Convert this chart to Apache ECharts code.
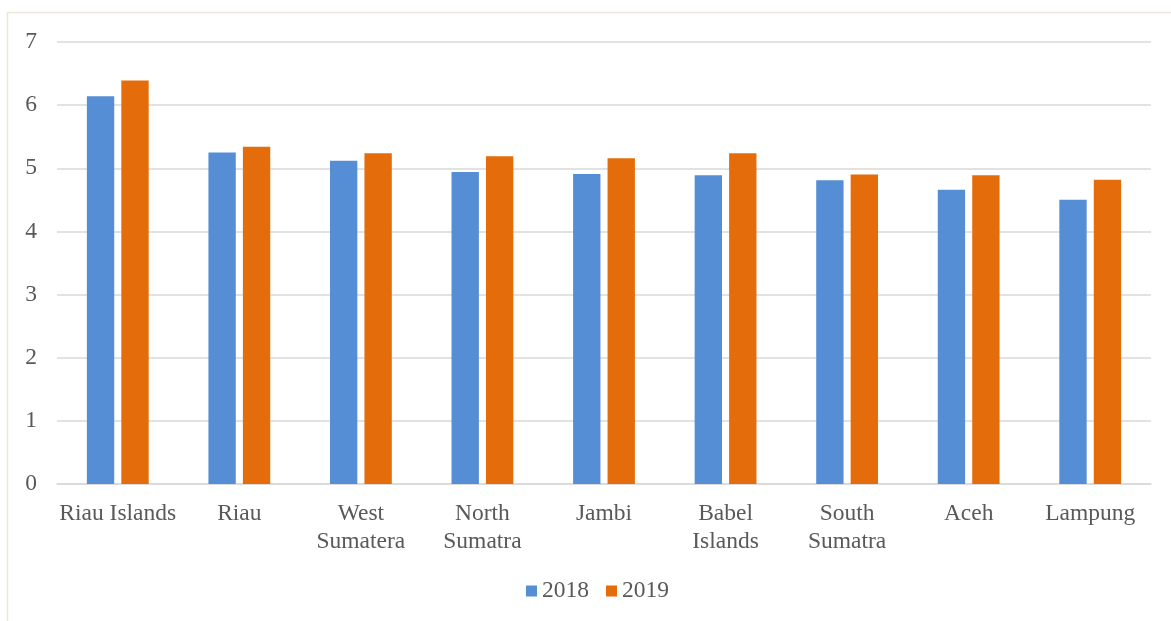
<!DOCTYPE html>
<html><head><meta charset="utf-8">
<script src="https://cdn.jsdelivr.net/npm/echarts@6/dist/echarts.min.js"></script>
<style>html,body{margin:0;padding:0;background:#fff}#c{width:1171px;height:621px}</style>
</head><body><div id="c"></div>
<script>
const categories = ['Riau Islands','Riau','West\nSumatera','North\nSumatra','Jambi','Babel\nIslands','South\nSumatra','Aceh','Lampung'];
const seriesNames = ['2018','2019'];
const values2018 = [6.14,5.25,5.12,4.94,4.91,4.89,4.81,4.66,4.50];
const values2019 = [6.39,5.34,5.24,5.19,5.16,5.24,4.90,4.89,4.82];
const yTicks = {min:0, max:7, interval:1};

const chart = echarts.init(document.getElementById('c'), null, {renderer:'canvas'});
const font = 'Liberation Serif';
chart.setOption({
  backgroundColor:'#fff',
  animation:false,
  graphic:[{type:'rect', shape:{x:7.5,y:12.5,width:1200,height:700}, style:{fill:'none',stroke:'#ece8d9',lineWidth:1.5}, silent:true}],
  grid:{left:57, right:20, top:42, bottom:137, containLabel:false},
  legend:{data:seriesNames, top:574, left:521, itemWidth:11, itemHeight:11, itemGap:17,
    icon:'rect', textStyle:{fontFamily:font, fontSize:23.5, color:'#595959', padding:[0,0,0,0]}},
  xAxis:{type:'category', data:categories,
    axisLine:{lineStyle:{color:'#d9d9d9', width:1.5}}, axisTick:{show:false},
    axisLabel:{fontFamily:font, fontSize:23.5, color:'#595959', margin:16, lineHeight:28, interval:0}},
  yAxis:{type:'value', min:yTicks.min, max:yTicks.max, interval:yTicks.interval,
    axisLine:{show:false}, axisTick:{show:false},
    splitLine:{lineStyle:{color:'#d9d9d9', width:1.5}},
    axisLabel:{fontFamily:font, fontSize:23.5, color:'#595959', margin:20}},
  series:[
    {name:seriesNames[0], type:'bar', data:values2018, barWidth:'22.5%', barGap:'26%', itemStyle:{color:'#558ed5'}},
    {name:seriesNames[1], type:'bar', data:values2019, barWidth:'22.5%', itemStyle:{color:'#e46c0a'}}
  ]
});
</script></body></html>
